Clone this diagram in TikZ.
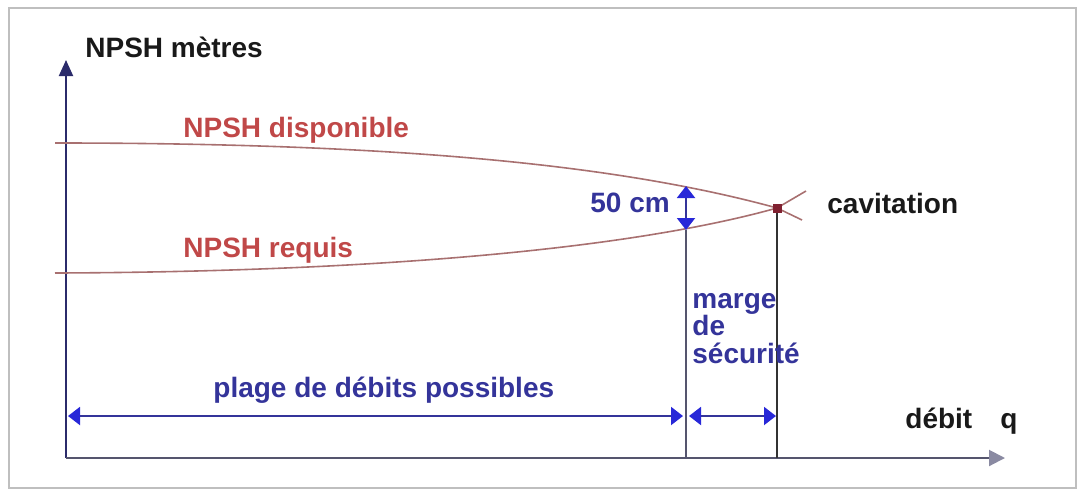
\documentclass[tikz,border=0pt]{standalone}
\usepackage{fontspec}
\setmainfont{Liberation Sans}
\usetikzlibrary{arrows.meta}
\definecolor{axisblue}{HTML}{2B2B6B}
\definecolor{axisgray}{HTML}{55556E}
\definecolor{tipgray}{HTML}{8A8AA2}
\definecolor{curvered}{HTML}{A87070}
\definecolor{labelred}{HTML}{C04848}
\definecolor{labelblue}{HTML}{34349A}
\definecolor{tipblue}{HTML}{2828D8}
\definecolor{cavred}{HTML}{802030}

\begin{document}
\begin{tikzpicture}[x=0.5pt,y=-0.5pt,
	lbl/.style={font=\fontsize{14}{13.75}\selectfont\bfseries,inner sep=0pt,anchor=base west},
	curve/.style={curvered,line width=0.8pt},
	dim/.style={labelblue,line width=1pt,{Triangle[width=9pt,length=6pt,color=tipblue]}-{Triangle[width=9pt,length=6pt,color=tipblue]}},
	]
	\useasboundingbox (0,0) rectangle (1080,493);
	\draw[black!25,line width=1.4pt] (9,8) rectangle (1076,488);

	\coordinate (O) at (66,458);
	\coordinate (ytop) at (66,60);
	\coordinate (xend) at (1005,458);
	\coordinate (cav) at (777,208);
	\coordinate (d50) at (686,186);
	\coordinate (r50) at (686,230);
	\coordinate (mfoot) at (686,458);
	\coordinate (cfoot) at (777,458);
	\coordinate (pl) at (68,416);
	\coordinate (pr) at (683,416);
	\coordinate (ml) at (689,416);
	\coordinate (mr) at (776,416);

	\draw[axisblue,line width=1pt,-{Triangle[width=7pt,length=8pt]}] (O) -- (ytop);
	\draw[axisgray,line width=1pt,-{Triangle[width=8pt,length=8pt,color=tipgray]}] (O) -- (xend);

	\draw[curve] (55,143) .. controls (400,143) and (620,165) .. (cav) -- (802,220);
	\draw[curve] (55,273) .. controls (350,272) and (620,252) .. (cav) -- (806,191);

	\draw[axisgray,line width=1pt] (r50) -- (mfoot);
	\draw[black!80,line width=1pt] (cav) -- (cfoot);
	\node[fill=cavred,minimum size=4.5pt,inner sep=0pt] (cavpt) at (cav) {};

	\draw[dim] (d50) -- (r50);
	\draw[dim] (pl) -- (pr);
	\draw[dim] (ml) -- (mr);

	\node[lbl,black!90] (ylab) at (85,57) {NPSH mètres};
	\node[lbl,labelred] (dispo) at (183,137) {NPSH disponible};
	\node[lbl,labelred] (requis) at (183,257) {NPSH requis};
	\node[lbl,labelblue] (cm) at (590,212) {50 cm};
	\node[lbl,black!90] (cavlab) at (827,213) {cavitation};
	\node[lbl,labelblue,align=left,anchor=north west] (marge) at (692,293) {marge\\de\\sécurité};
	\node[lbl,labelblue] (plage) at (213,397) {plage de débits possibles};
	\node[lbl,black!90] (qlab) at (905,428) {débit\hspace{1em}q};
\end{tikzpicture}
\end{document}
